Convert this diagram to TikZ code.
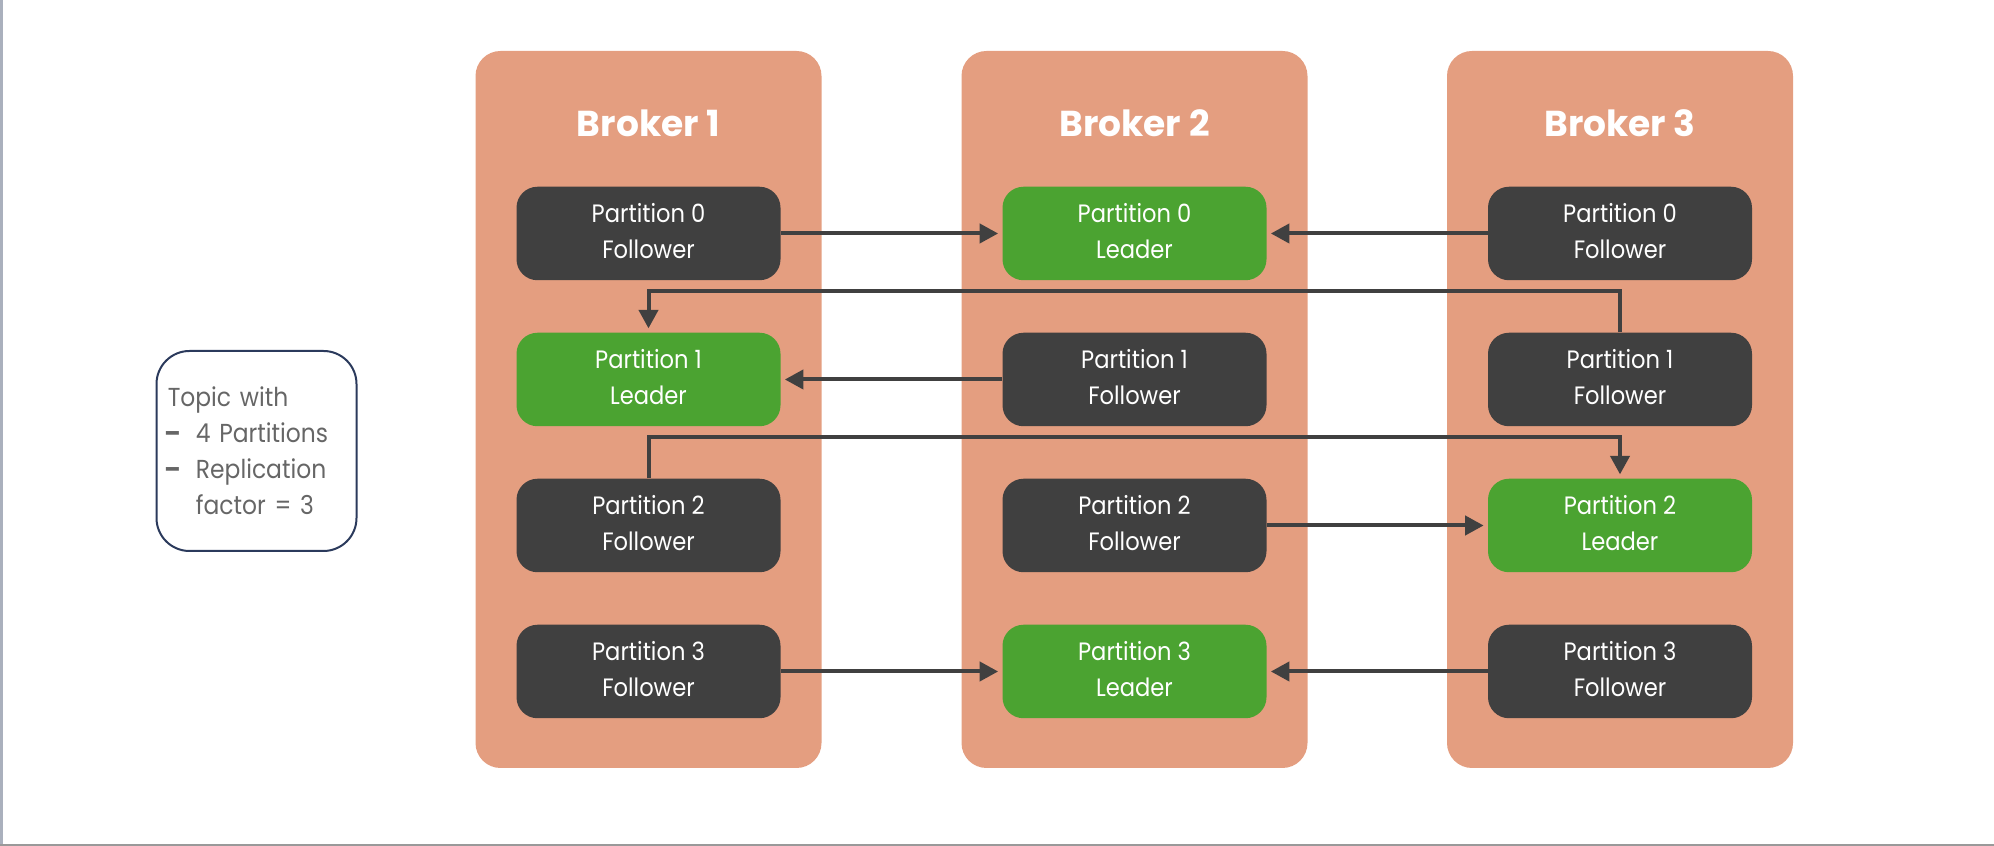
\documentclass[tikz,border=0pt]{standalone}
\usepackage{fontspec}
\setmainfont{Poppins}
\newfontfamily\narrowpoppins{Poppins}[FakeStretch=0.9,Ligatures=TeX]
\usetikzlibrary{arrows.meta,positioning}
\definecolor{brokerorange}{HTML}{E49E80}
\definecolor{followergrey}{HTML}{404040}
\definecolor{leadergreen}{HTML}{4BA331}
\definecolor{arrowgrey}{HTML}{404040}
\definecolor{topicblue}{HTML}{2B3A5C}
\definecolor{topicgrey}{HTML}{666666}
\definecolor{edgegrey}{HTML}{AAB0BD}
\tikzset{brokerbox/.style={fill=brokerorange,rounded corners=0.5cm,minimum width=6.92cm,minimum height=14.34cm},
    partbox/.style={rounded corners=0.42cm,minimum width=5.28cm,minimum height=1.87cm,text=white,align=center,text depth=0.1cm,font=\narrowpoppins\fontsize{14.3}{20.3}\selectfont},
    followerbox/.style={partbox,fill=followergrey},
    leaderbox/.style={partbox,fill=leadergreen},
    brokertitle/.style={text=white,font=\fontsize{20.5}{24}\selectfont\bfseries,anchor=base},
    replarrow/.style={draw=arrowgrey,line width=0.08cm,-{Triangle[length=0.37cm,width=0.38cm]},shorten >=0.08cm},
    topicbox/.style={draw=topicblue,line width=0.04cm,rounded corners=0.66cm,minimum width=4cm,minimum height=4cm,text width=3.69cm,inner xsep=0,align=left,text=topicgrey,font=\narrowpoppins\fontsize{14.8}{20.4}\selectfont}
}
\newcommand{\topicdash}{\makebox[0.634cm][l]{\bfseries –}}

\begin{document}
\begin{tikzpicture}

\useasboundingbox (0,0) rectangle (39.88,16.92);

% edges of the page
\draw [edgegrey,line width=0.06cm] (0.03,0) -- (0.03,16.92);
\draw [gray!80,line width=0.04cm] (0,0.02) -- (39.88,0.02);

% brokers
\foreach \b/\x in {1/12.97,2/22.69,3/32.40}
{
    \node (b\b) [brokerbox] at (\x,8.73) {};
    \node (title\b) [brokertitle] at (\x,14.19) {Broker \b};
}

% partitions, one leader per row
\foreach \p/\lead in {0/2,1/1,2/3,3/2}
    \foreach \b/\x in {1/12.97,2/22.69,3/32.40}
    {
        \ifnum\b=\lead \def\role{Leader}\def\rolestyle{leaderbox}\else \def\role{Follower}\def\rolestyle{followerbox}\fi
        \node (b\b p\p) [\rolestyle] at (\x,12.25-2.92*\p) {Partition \p\\\role};
    }

\draw [replarrow] (b1p0.east) -- (b2p0.west);
\draw [replarrow] (b3p0.west) -- (b2p0.east);
\draw [replarrow] (b3p1.north) -- ++(0,0.82) -| (b1p1.north);
\draw [replarrow] (b2p1.west) -- (b1p1.east);
\draw [replarrow] (b1p2.north) -- ++(0,0.83) -| (b3p2.north);
\draw [replarrow] (b2p2.east) -- (b3p2.west);
\draw [replarrow] (b1p3.east) -- (b2p3.west);
\draw [replarrow] (b3p3.west) -- (b2p3.east);

\node (topic) [topicbox] at (5.13,7.9) {\hspace*{0.07cm}Topic with\\\topicdash4 Partitions\\\topicdash Replication\\\hspace*{0.634cm}factor = 3};

\end{tikzpicture}
\end{document}
